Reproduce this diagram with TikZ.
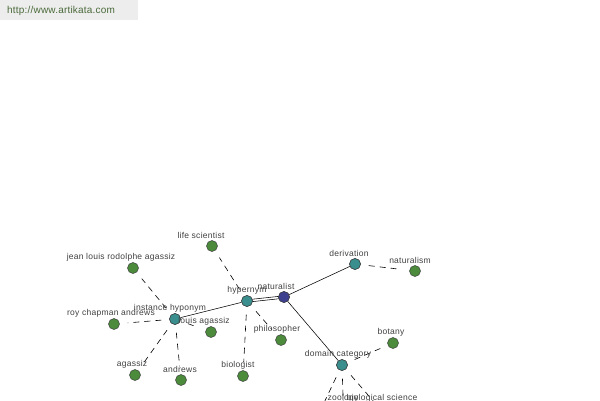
\documentclass[tikz,border=0pt]{standalone}
\usepackage{fontspec}
\setmainfont{Liberation Sans}
\definecolor{leafc}{HTML}{4B8B3B}
\definecolor{midc}{HTML}{3A8E8E}
\definecolor{rootc}{HTML}{3D3F8F}
\definecolor{urlc}{HTML}{4A6A3A}
\begin{document}
\begin{tikzpicture}[x=1pt,y=-1pt,
  vtx/.style={circle,draw=black!75,line width=0.5pt,minimum size=11pt,inner sep=0pt},
  leaf/.style={vtx,fill=leafc},
  mid/.style={vtx,fill=midc},
  root/.style={vtx,fill=rootc},
  lbl/.style={font=\fontsize{8.5}{10}\selectfont\addfontfeature{LetterSpace=3},text=black!75,inner sep=0pt},
  solidedge/.style={line width=0.55pt},
  dashedge/.style={line width=0.6pt,dash pattern=on 6pt off 5pt,shorten >=8pt,shorten <=8pt}]
\useasboundingbox (0,0) rectangle (600,400);
\clip (0,0) rectangle (600,400);
\fill[black!7] (0,0) rectangle (138,20);
\node[font=\fontsize{10}{11}\selectfont\addfontfeature{LetterSpace=2},text=urlc,anchor=west,inner sep=0pt] (url) at (7,11) {http://www.artikata.com};
% nodes
\node[root] (nat) at (284,297) {};
\node[mid] (hyp) at (247,301) {};
\node[mid] (der) at (355,264) {};
\node[leaf] (nism) at (415,271) {};
\node[mid] (dom) at (342,365) {};
\node[leaf] (bot) at (393,343) {};
\node[mid] (inst) at (175,319) {};
\node[leaf] (life) at (212,246) {};
\node[leaf] (jean) at (133,268) {};
\node[leaf] (roy) at (114,324) {};
\node[leaf] (louis) at (211,332) {};
\node[leaf] (aga) at (135,375) {};
\node[leaf] (andr) at (181,380) {};
\node[leaf] (bio) at (243,376) {};
\node[leaf] (phil) at (281,340) {};
\node[leaf] (zoo) at (312,428) {};
\node[leaf] (bsci) at (344,424) {};
\node[leaf] (other) at (388,418) {};
% edges
\draw[solidedge] ([yshift=-1.2pt]nat.center) -- ([yshift=-1.2pt]hyp.center);
\draw[solidedge] ([yshift=1.2pt]nat.center) -- ([yshift=1.2pt]hyp.center);
\draw[solidedge] (nat) -- (der);
\draw[solidedge] (nat) -- (dom);
\draw[solidedge] (hyp) -- (inst);
\draw[dashedge] (hyp) -- (life);
\draw[dashedge] (hyp) -- (bio);
\draw[dashedge] (hyp) -- (phil);
\draw[dashedge] (der) -- (nism);
\draw[dashedge] (dom) -- (bot);
\draw[dashedge] (dom) -- (zoo);
\draw[dashedge] (dom) -- (bsci);
\draw[dashedge] (dom) -- (other);
\draw[dashedge] (inst) -- (jean);
\draw[dashedge] (inst) -- (roy);
\draw[dashedge] (inst) -- (louis);
\draw[dashedge] (inst) -- (aga);
\draw[dashedge] (inst) -- (andr);
% redraw hubs on top of their edges
\node[root] at (nat) {};
\node[mid] at (hyp) {};
\node[mid] at (inst) {};
\node[mid] at (der) {};
\node[mid] at (dom) {};
% labels
\node[lbl] (lnat) at (276,286) {naturalist};
\node[lbl] (lhyp) at (247,290) {hypernym};
\node[lbl] (lder) at (349,253) {derivation};
\node[lbl] (lnism) at (410,260) {naturalism};
\node[lbl] (ldom) at (338,354) {domain category};
\node[lbl] (lbot) at (391,332) {botany};
\node[lbl] (linst) at (170,308) {instance hyponym};
\node[lbl] (llife) at (201,235) {life scientist};
\node[lbl] (ljean) at (121,257) {jean louis rodolphe agassiz};
\node[lbl] (lroy) at (111,313) {roy chapman andrews};
\node[lbl] (llouis) at (204,321) {louis agassiz};
\node[lbl] (laga) at (132,364) {agassiz};
\node[lbl] (landr) at (180,369) {andrews};
\node[lbl] (lbio) at (238,365) {biologist};
\node[lbl] (lphil) at (277,329) {philosopher};
\node[lbl] (lzoo) at (343,398) {zoology};
\node[lbl] (lbsci) at (382,398) {biological science};
\end{tikzpicture}
\end{document}
